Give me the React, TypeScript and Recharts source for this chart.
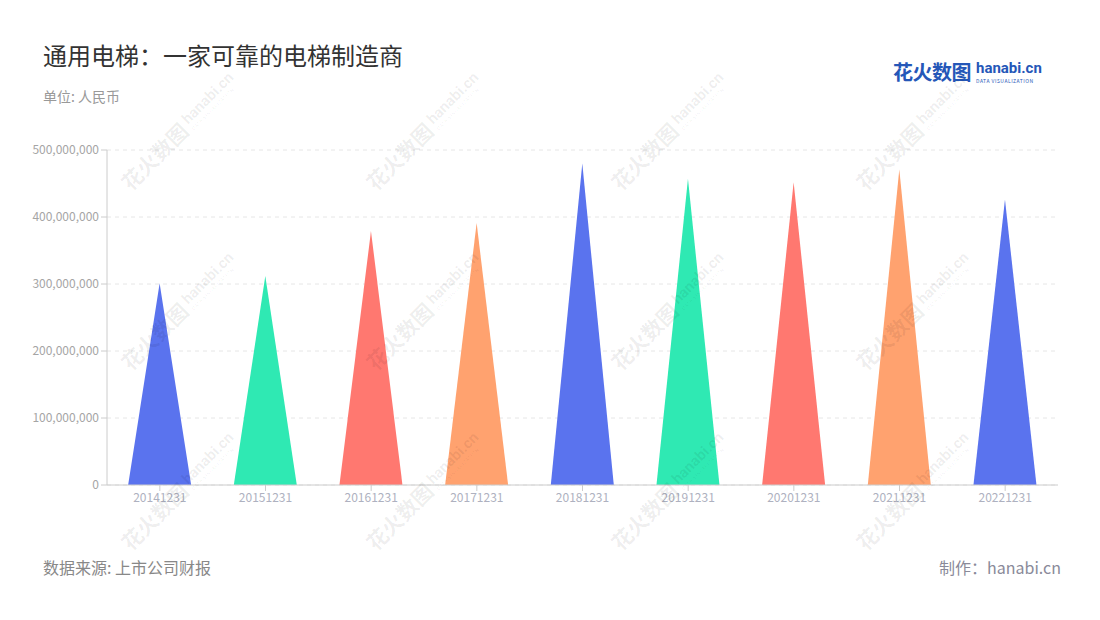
import React from "react"
import { BarChart, Bar, Cell, XAxis, YAxis, CartesianGrid } from "recharts"

document.body.style.margin = "0"

const years = ["20141231", "20151231", "20161231", "20171231", "20181231", "20191231", "20201231", "20211231", "20221231"]
const revenue = [301000000, 312000000, 379000000, 391000000, 480000000, 457000000, 452000000, 471000000, 426000000]
const yTicks = [0, 100000000, 200000000, 300000000, 400000000, 500000000]
const palette = ["#5a73ee", "#2fe9b3", "#ff7870", "#ffa26f"]

const data = years.map((year, i) => ({ year, value: revenue[i] }))

const FONT = '"Noto Sans CJK SC", "Noto Sans", sans-serif'

const Triangle = (props: any) => {
    const { x, y, width, height, fill } = props
    if (height <= 0) return null
    const d = `M${x},${y + height} L${x + width / 2},${y} L${x + width},${y + height} Z`
    return <path d={d} fill={fill} />
}

const Watermark = ({ cx, cy }: { cx: number; cy: number }) => (
    <div
        style={{
            position: "absolute",
            left: cx - 90,
            top: cy - 16,
            width: 180,
            height: 32,
            transform: "rotate(-45deg)",
            display: "flex",
            alignItems: "center",
            gap: 4,
            color: "rgba(0,0,0,0.07)",
            whiteSpace: "nowrap",
            pointerEvents: "none",
        }}
    >
        <span style={{ fontSize: 21, fontWeight: 700 }}>花火数图</span>
        <span style={{ display: "flex", flexDirection: "column", lineHeight: 1 }}>
            <span style={{ fontSize: 15, fontWeight: 700, fontFamily: "Roboto, sans-serif" }}>hanabi.cn</span>
            <span style={{ fontSize: 5, letterSpacing: 0.5 }}>DATA VISUALIZATION</span>
        </span>
    </div>
)

const marks: [number, number][] = []
for (const cx of [188, 433, 678, 923]) {
    for (const cy of [122, 302, 482]) marks.push([cx, cy])
}

export default function App() {
    return (
        <div style={{ position: "relative", width: 1100, height: 620, background: "#fff", fontFamily: FONT, overflow: "hidden" }}>
            <div style={{ position: "absolute", left: 43, top: 38, fontSize: 24, color: "#333", lineHeight: "34px" }}>
                通用电梯：一家可靠的电梯制造商
            </div>
            <div style={{ position: "absolute", left: 43, top: 86, fontSize: 14, color: "#999", lineHeight: "20px" }}>
                单位: 人民币
            </div>

            <div style={{ position: "absolute", left: 893, top: 57, display: "flex", alignItems: "center", gap: 5 }}>
                <span style={{ fontSize: 20, fontWeight: 700, color: "#2557b8", letterSpacing: -0.5 }}>花火数图</span>
                <span style={{ display: "flex", flexDirection: "column", lineHeight: 1 }}>
                    <span style={{ fontSize: 15, fontWeight: 700, color: "#2557b8", fontFamily: "Roboto, sans-serif" }}>hanabi.cn</span>
                    <span style={{ fontSize: 5, color: "#2557b8", letterSpacing: 0.5, marginTop: 2 }}>DATA VISUALIZATION</span>
                </span>
            </div>

            <div style={{ position: "absolute", left: 0, top: 0 }}>
                <BarChart
                    width={1100}
                    height={620}
                    data={data}
                    margin={{ top: 150, right: 42, bottom: 105, left: 0 }}
                    barCategoryGap="20%"
                    style={{ fontFamily: FONT }}
                >
                    <CartesianGrid vertical={false} stroke="#e6e6e6" strokeDasharray="4 4" />
                    <XAxis
                        dataKey="year"
                        height={30}
                        stroke="#cccccc"
                        tick={{ fill: "#aeb1c0", fontSize: 12 }}
                        tickLine={{ stroke: "#cccccc" }}
                    />
                    <YAxis
                        width={107}
                        domain={[0, 500000000]}
                        ticks={yTicks}
                        stroke="#cccccc"
                        tick={{ fill: "#a5a5a5", fontSize: 12 }}
                        tickFormatter={(v: number) => v.toLocaleString("en-US")}
                    />
                    <Bar dataKey="value" shape={Triangle} isAnimationActive={false}>
                        {data.map((d, i) => (
                            <Cell key={d.year} fill={palette[i % palette.length]} />
                        ))}
                    </Bar>
                </BarChart>
            </div>

            {marks.map(([cx, cy]) => (
                <Watermark key={`${cx}-${cy}`} cx={cx} cy={cy} />
            ))}

            <div style={{ position: "absolute", left: 43, top: 556, fontSize: 16, color: "#888", lineHeight: "22px" }}>
                数据来源: 上市公司财报
            </div>
            <div style={{ position: "absolute", right: 39, top: 556, fontSize: 16, color: "#8a8a99", lineHeight: "22px" }}>
                制作：hanabi.cn
            </div>
        </div>
    )
}
